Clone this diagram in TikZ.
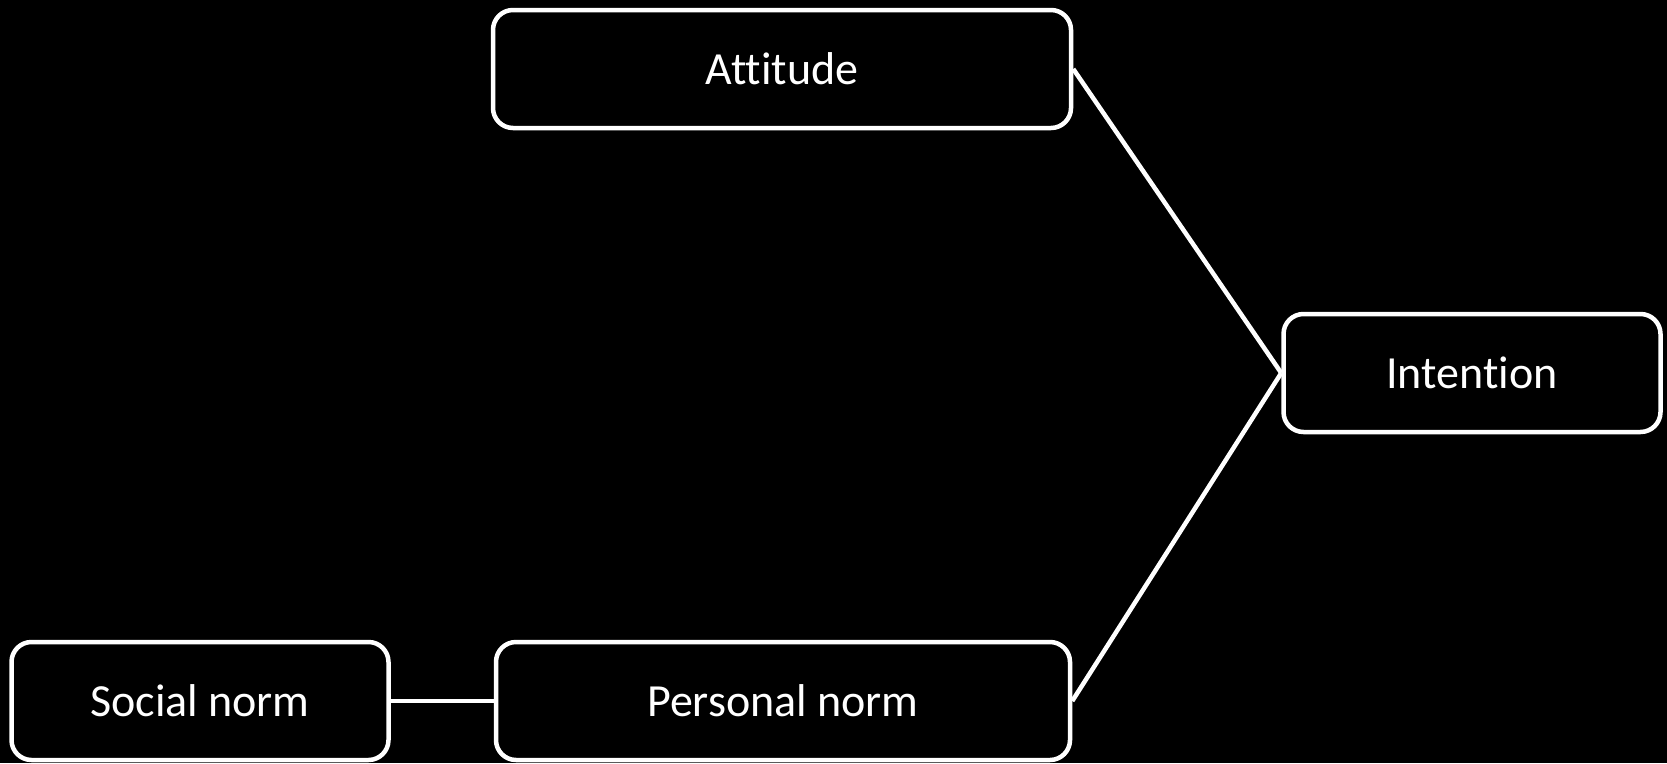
\documentclass[tikz,border=0pt]{standalone}
\usepackage{fontspec}
\setmainfont{Carlito}[Ligatures=NoCommon]
\usetikzlibrary{positioning}

\tikzset{
  factor/.style={draw=white, line width=4.5pt, rounded corners=20pt, fill=black,
    text=white, inner sep=0pt, minimum height=118pt,
    font=\fontsize{46}{55}\selectfont},
  link/.style={draw=white, line width=4.5pt}
}

\begin{document}
\begin{tikzpicture}[x=1pt,y=-1pt]
			% background
			\fill[black] (0,0) rectangle (1667,763);
			\useasboundingbox (0,0) rectangle (1667,763);
			
			% the four boxes
			\node[factor, minimum width=578pt] (attitude)  at (782,69)  {Attitude};
			\node[factor, minimum width=377pt] (intention) at (1472,373) {Intention};
			\node[factor, minimum width=377pt] (social)    at (200,701) {Social norm};
			\node[factor, minimum width=574pt] (personal)  at (783,701) {Personal norm};
			
			% connectors
			\draw[link] (attitude.east) -- (intention.west);
			\draw[link] (personal.east) -- (intention.west);
			\draw[link] (social.east) -- (personal.west);
		\end{tikzpicture}
\end{document}
